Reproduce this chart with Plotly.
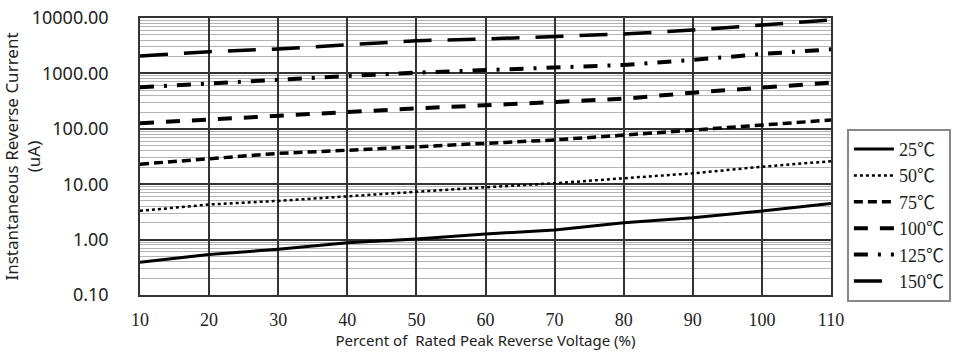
import plotly.graph_objects as go

x_pct = [10, 20, 30, 40, 50, 60, 70, 80, 90, 100, 110]

i_25 = [0.39, 0.54, 0.67, 0.88, 1.03, 1.26, 1.49, 2.02, 2.48, 3.28, 4.5]
i_50 = [3.3, 4.3, 5.0, 5.95, 7.3, 8.8, 10.4, 12.8, 15.7, 20.7, 26]
i_75 = [23, 29, 36, 41, 47.5, 55, 63, 77, 95, 120, 144]
i_100 = [126, 148, 170, 201, 234, 266, 308, 349, 449, 552, 680]
i_125 = [561, 662, 760, 898, 1030, 1150, 1290, 1420, 1750, 2240, 2720]
i_150 = [2060, 2470, 2760, 3260, 3890, 4180, 4590, 5140, 6060, 7480, 9200]

series_names = ["25℃", "50℃", "75℃", "100℃", "125℃", "150℃"]
y_ticks = [0.1, 1, 10, 100, 1000, 10000]
x_ticks = [10, 20, 30, 40, 50, 60, 70, 80, 90, 100, 110]

styles = [
    dict(width=3, dash="solid"),
    dict(width=2.5, dash="dot"),
    dict(width=3.5, dash="9px,5px"),
    dict(width=4, dash="14px,12px"),
    dict(width=4, dash="14px,10px,3px,10px"),
    dict(width=3.5, dash="28px,16px"),
]

fig = go.Figure()
for name, ys, st in zip(series_names, [i_25, i_50, i_75, i_100, i_125, i_150], styles):
    fig.add_trace(go.Scatter(x=x_pct, y=ys, mode="lines", name=name,
                             line=dict(color="black", width=st["width"], dash=st["dash"])))

fig.update_layout(
    width=964, height=356,
    margin=dict(l=140, r=133, t=18, b=61, autoexpand=False),
    paper_bgcolor="white", plot_bgcolor="white",
    font=dict(family="Noto Sans, DejaVu Sans", color="#222"),
    legend=dict(x=1.023, y=0.6, xanchor="left", yanchor="top",
                bordercolor="#888", borderwidth=2, bgcolor="white",
                font=dict(size=18, family="Liberation Serif, Noto Sans CJK SC"),
                tracegroupgap=0, itemwidth=40),
    showlegend=True,
)

fig.update_xaxes(
    range=[10, 110], tickvals=x_ticks, automargin=False,
    showgrid=True, gridcolor="#333", gridwidth=1.5,
    showline=True, linecolor="#333", linewidth=1.5, mirror=True,
    zeroline=False, ticks="", ticklabelstandoff=8, ticklabeloverflow="allow",
    tickfont=dict(family="Liberation Serif, DejaVu Serif", size=18, color="#222"),
    title=dict(text="Percent of  Rated Peak Reverse Voltage (%)",
               font=dict(size=15, family="Noto Sans"), standoff=6),
)

fig.update_yaxes(
    type="log", range=[-1, 4], tickvals=y_ticks, tickformat=".2f", automargin=False,
    showgrid=True, gridcolor="#333", gridwidth=1.5,
    minor=dict(showgrid=True, gridcolor="#b4b4b4", gridwidth=1, dtick="D1"),
    showline=True, linecolor="#333", linewidth=1.5, mirror=True,
    zeroline=False, ticks="", ticklabelstandoff=26, ticklabeloverflow="allow",
    tickfont=dict(family="Noto Sans", size=18, color="#222"),
    title=dict(text="Instantaneous Reverse Current<br>(uA)",
               font=dict(size=17, family="Noto Sans"), standoff=0),
)

fig.write_html("out.html", config={"displayModeBar": False},
               post_script="document.body.style.margin='0';")
